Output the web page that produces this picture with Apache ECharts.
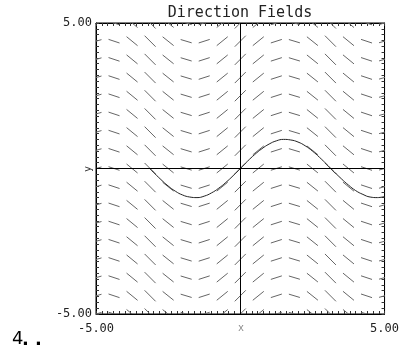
<!DOCTYPE html>
<html>
<head>
<meta charset="utf-8">
<script src="https://cdn.jsdelivr.net/npm/echarts@6/dist/echarts.min.js"></script>
<style>html,body{margin:0;padding:0;background:#fff}#c{width:402px;height:356px}</style>
</head>
<body>
<div id="c"></div>
<script>
// Direction field grid (columns / rows) and the slope read at each column
var fieldX = [-5, -4.375, -3.75, -3.125, -2.5, -1.875, -1.25, -0.625, 0, 0.625, 1.25, 1.875, 2.5, 3.125, 3.75, 4.375, 5];
var fieldY = [-5, -4.375, -3.75, -3.125, -2.5, -1.875, -1.25, -0.625, 0, 0.625, 1.25, 1.875, 2.5, 3.125, 3.75, 4.375, 5];
var slopes = [0.28, -0.33, -0.82, -1.0, -0.80, -0.30, 0.32, 0.81, 1.0, 0.81, 0.32, -0.30, -0.80, -1.0, -0.82, -0.33, 0.28];

// Solution curve
var curveX = [-3.14, -2.75, -2.5, -2.25, -2, -1.75, -1.5, -1.25, -1, -0.75, -0.5, -0.25, 0, 0.25, 0.5, 0.75, 1, 1.25, 1.5, 1.75, 2, 2.25, 2.5, 2.75, 3, 3.14, 3.5, 3.75, 4, 4.25, 4.5, 4.75, 5];
var curveY = [0, -0.38, -0.6, -0.78, -0.91, -0.98, -1.0, -0.95, -0.84, -0.68, -0.48, -0.25, 0, 0.25, 0.48, 0.68, 0.84, 0.95, 1.0, 0.98, 0.91, 0.78, 0.6, 0.38, 0.14, 0, -0.35, -0.57, -0.76, -0.89, -0.98, -1.0, -0.96];

var axisMin = -5, axisMax = 5;
var titleText = 'Direction Fields';
var xName = 'x', yName = 'y';

var fieldData = [];
for (var i = 0; i < fieldX.length; i++) {
  for (var j = 0; j < fieldY.length; j++) {
    fieldData.push([fieldX[i], fieldY[j], slopes[i]]);
  }
}
var curveData = curveX.map(function (x, k) { return [x, curveY[k]]; });

var mono = 'DejaVu Sans Mono';
function endLabel(v) {
  return (Math.abs(Math.abs(v) - 5) < 1e-6) ? v.toFixed(2) : '';
}
var tickCommon = {show: true, inside: true, length: 3, lineStyle: {color: '#333', width: 1}};

var chart = echarts.init(document.getElementById('c'), null, {renderer: 'canvas'});
chart.setOption({
  animation: false,
  backgroundColor: '#fff',
  grid: {left: 96, top: 23, width: 291, height: 291, show: true, borderColor: '#000', borderWidth: 1, containLabel: false},
  xAxis: [{
    type: 'value', min: axisMin, max: axisMax, interval: 0.2, position: 'bottom',
    axisLine: {show: true, onZero: false, lineStyle: {color: '#000'}},
    axisTick: tickCommon,
    splitLine: {show: false},
    axisLabel: {show: true, formatter: endLabel, fontFamily: mono, fontSize: 12, color: '#222', margin: 9, showMinLabel: true, showMaxLabel: true}
  }, {
    type: 'value', min: axisMin, max: axisMax, interval: 0.2, position: 'top',
    axisLine: {show: true, onZero: false, lineStyle: {color: '#000'}},
    axisTick: tickCommon, splitLine: {show: false}, axisLabel: {show: false}
  }],
  yAxis: [{
    type: 'value', min: axisMin, max: axisMax, interval: 0.2, position: 'left',
    axisLine: {show: true, onZero: false, lineStyle: {color: '#000'}},
    axisTick: tickCommon, splitLine: {show: false},
    axisLabel: {show: true, formatter: endLabel, fontFamily: mono, fontSize: 12, color: '#222', margin: 4, showMinLabel: true, showMaxLabel: true}
  }, {
    type: 'value', min: axisMin, max: axisMax, interval: 0.2, position: 'right',
    axisLine: {show: true, onZero: false, lineStyle: {color: '#000'}},
    axisTick: tickCommon, splitLine: {show: false}, axisLabel: {show: false}
  }],
  graphic: [
    {type: 'text', x: 240, y: 13, style: {text: titleText, font: '15px "DejaVu Sans Mono"', fill: '#222', textAlign: 'center', textVerticalAlign: 'middle'}},
    {type: 'text', x: 241, y: 328, style: {text: xName, font: '10px "DejaVu Sans Mono"', fill: '#888', textAlign: 'center', textVerticalAlign: 'middle'}},
    {type: 'text', x: 88, y: 169, rotation: Math.PI / 2, style: {text: yName, font: '10px "DejaVu Sans Mono"', fill: '#333', textAlign: 'center', textVerticalAlign: 'middle'}},
    {type: 'text', x: 12, y: 348, style: {text: '4', font: '18px "DejaVu Sans"', fill: '#000', textAlign: 'left', textVerticalAlign: 'bottom'}},
    {type: 'text', x: 22, y: 349, style: {text: '. .', font: 'bold 18px "DejaVu Sans"', fill: '#000', textAlign: 'left', textVerticalAlign: 'bottom'}}
  ],
  series: [{
    type: 'custom',
    xAxisIndex: 0, yAxisIndex: 0,
    clip: true,
    silent: true,
    data: fieldData,
    renderItem: function (params, api) {
      var c = api.coord([api.value(0), api.value(1)]);
      var s = api.value(2);
      var h = 5.5;
      return {
        type: 'line',
        shape: {x1: c[0] - h, y1: c[1] + h * s, x2: c[0] + h, y2: c[1] - h * s},
        style: {stroke: '#666', lineWidth: 1}
      };
    },
    markLine: {
      silent: true, symbol: 'none', animation: false,
      label: {show: false},
      lineStyle: {color: '#000', type: 'solid', width: 1},
      data: [{xAxis: 0}, {yAxis: 0}]
    }
  }, {
    type: 'line',
    xAxisIndex: 0, yAxisIndex: 0,
    data: curveData,
    smooth: true,
    showSymbol: false,
    silent: true,
    lineStyle: {color: '#222', width: 1}
  }]
});
</script>
</body>
</html>
